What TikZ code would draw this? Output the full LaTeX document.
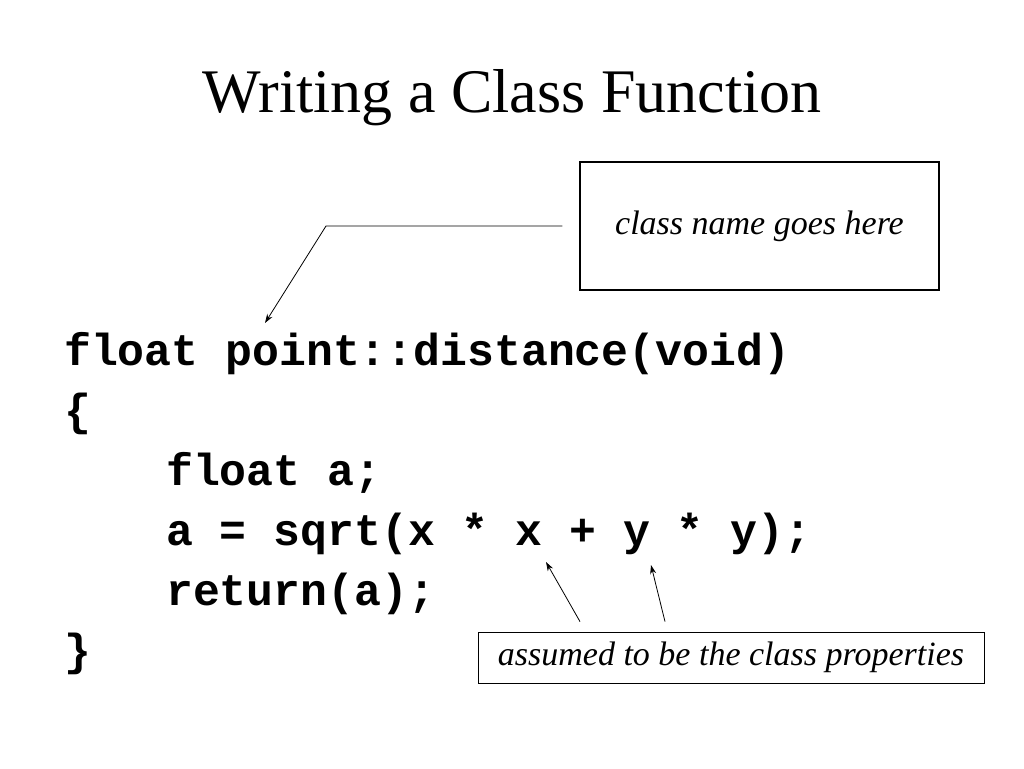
\documentclass[tikz,border=0pt]{standalone}
\usepackage{fontspec}
\setmainfont{Liberation Serif}
\setmonofont{Liberation Mono}
\usetikzlibrary{calc}
\tikzset{
  codeline/.style={anchor=base west, inner sep=0pt, font=\fontsize{44.8}{50}\selectfont\ttfamily\bfseries},
  notebox/.style={draw, line width=1.2pt, font=\fontsize{34}{38}\selectfont\itshape},
  pointer/.style={-{Stealth[length=9pt,width=6pt]}, line width=0.8pt}
}
\usetikzlibrary{arrows.meta}
\begin{document}
\begin{tikzpicture}[x=1pt, y=-1pt]
        \useasboundingbox (0,0) rectangle (1024,768);

        % Title.
        \node (title) at (512,98) {\fontsize{62}{70}\selectfont Writing a Class Function};

        % Box for the class name.
        \node (namebox) [notebox, minimum width=359pt, minimum height=128pt] at (759.5,226) {class name goes here};

        % The code.
        \node (l1) [codeline] at (64,365) {float point::distance(void)};
        \node (l2) [codeline] at (64,425) {\{};
        \node (l3) [codeline] at (166,485) {float a;};
        \node (l4) [codeline] at (166,545) {a = sqrt(x * x + y * y);};
        \node (l5) [codeline] at (166,605) {return(a);};
        \node (l6) [codeline] at (64,665) {\}};

        % Box for the properties.
        \node (propbox) [notebox, line width=0.8pt, minimum width=506pt, minimum height=51pt] at (731,657.5) {assumed to be the class properties};

        % Pointers.
        \coordinate (bend) at (326,226);
        \coordinate (classtip) at (265,323);
        \draw [pointer] ($(namebox.west)+(-17,0)$) to (bend) to (classtip);
        \draw [pointer] ($(propbox.north)+(-151,-10)$) to (546,562);
        \draw [pointer] ($(propbox.north)+(-66,-10)$) to (651,565);
    \end{tikzpicture}
\end{document}
